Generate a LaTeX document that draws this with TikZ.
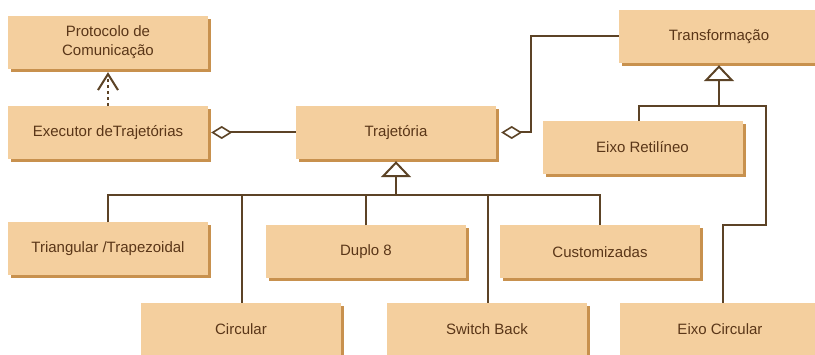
\documentclass[tikz,border=0pt]{standalone}
\usepackage{fontspec}
\setmainfont{Liberation Sans}
\usetikzlibrary{arrows.meta,shadows}
\definecolor{boxfill}{HTML}{F4CF9E}
\definecolor{boxshade}{HTML}{C8914E}
\definecolor{wire}{HTML}{5C4326}
\definecolor{ink}{HTML}{5A3618}

\begin{document}
\begin{tikzpicture}[x=1pt,y=-1pt,
  cls/.style={fill=boxfill, draw=none, minimum width=200pt, minimum height=53pt,
    inner sep=0pt, text=ink, font=\fontsize{15}{19}\selectfont, align=center,
    drop shadow={shadow xshift=3pt, shadow yshift=-3pt, fill=boxshade, opacity=1}},
  link/.style={draw=wire, line width=2pt},
  gen/.style={link, -{Triangle[open, length=16pt, width=30pt, line width=2pt]}},
  agg/.style={link, -{Diamond[open, length=21pt, width=13pt, line width=1.6pt]}},
  dep/.style={link, dash pattern=on 3pt off 3pt,
    -{Straight Barb[length=16pt, width=20pt, line width=2pt]}}
]
\useasboundingbox (0,0) rectangle (815,355);
\fill[white] (0,0) rectangle (815,355);

% classes
\node[cls] (proto)  at (108,42.5)  {Protocolo de\\Comunicação};
\node[cls] (exec)   at (108,132.5) {Executor deTrajetórias};
\node[cls] (traj)   at (396,132.5) {Trajetória};
\node[cls] (transf) at (719,36.5)  {Transformação};
\node[cls] (eixoR)  at (642.5,147.5) {Eixo Retilíneo};
\node[cls] (tri)    at (108,249)   {Triangular /Trapezoidal};
\node[cls] (duplo)  at (366,252)   {Duplo 8};
\node[cls] (custom) at (600,252)   {Customizadas};
\node[cls] (circ)   at (241,329.5) {Circular};
\node[cls] (switch) at (487,329.5) {Switch Back};
\node[cls] (eixoC)  at (720,329.5) {Eixo Circular};

% dependency
\draw[dep] (exec.north) -- ([yshift=-3pt]proto.south);

% aggregations
\draw[agg] (traj.west) -- ([xshift=3pt]exec.east);
\draw[agg] (transf.west) -| ([xshift=35pt]traj.east) -- ([xshift=5pt]traj.east);

% generalization of Trajetória
\coordinate (tbus) at (396,195);
\draw[gen] (tbus) -- ([yshift=-2pt]traj.south);
\draw[link] (tri.north) -- (tri.north |- tbus) -- (custom.north |- tbus) -- (custom.north);
\draw[link] (duplo.north) -- (duplo.north |- tbus);
\draw[link] ([xshift=1pt]circ.north) -- ([xshift=1pt]circ.north |- tbus);
\draw[link] ([xshift=1pt]switch.north) -- ([xshift=1pt]switch.north |- tbus);

% generalization of Transformação
\coordinate (rj) at (719,106);
\coordinate (rl) at (639,106);
\coordinate (rr) at (766,106);
\coordinate (rk) at (766,225);
\draw[gen] (rj) -- ([yshift=-2pt]transf.south);
\draw[link] (eixoR.north -| rl) -- (rl) -- (rr) -- (rk) -| ([xshift=3pt]eixoC.north);
\end{tikzpicture}
\end{document}
